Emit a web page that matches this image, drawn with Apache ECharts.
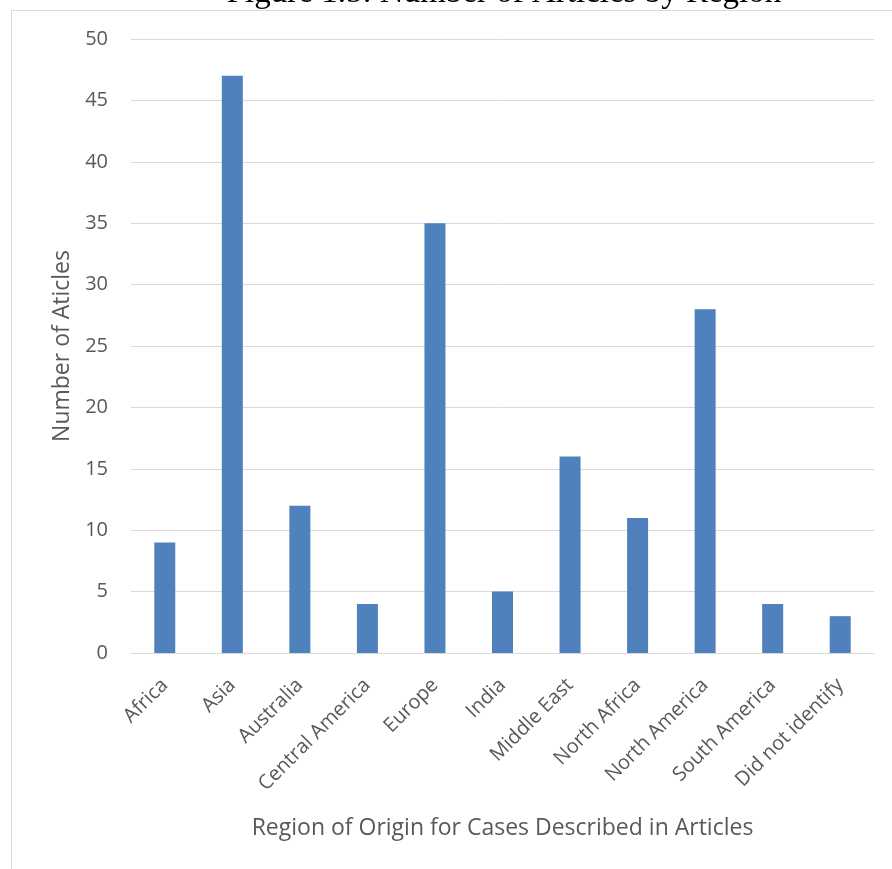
<!DOCTYPE html>
<html><head><meta charset="utf-8">
<script src="https://cdn.jsdelivr.net/npm/echarts@6/dist/echarts.min.js"></script>
<style>html,body{margin:0;padding:0;background:#fff}#c{width:892px;height:869px}</style>
</head><body><div id="c"></div>
<script>
const categories = ["Africa","Asia","Australia","Central America","Europe","India","Middle East","North Africa","North America","South America","Did not identify"];
const articles = [9,47,12,4,35,5,16,11,28,4,3];
const yTicks = [0,5,10,15,20,25,30,35,40,45,50];

const chart = echarts.init(document.getElementById('c'));
const font = '"Open Sans", sans-serif';
chart.setOption({
  animation:false,
  graphic:[
    {type:'rect',shape:{x:11.5,y:10.5,width:1000,height:1000},style:{fill:null,stroke:'#d9d9d9',lineWidth:1},silent:true},
    {type:'text',x:504,y:-7,style:{text:'Figure 1.5: Number of Articles by Region',textAlign:'center',textVerticalAlign:'middle',
      font:'33px "Liberation Serif","Times New Roman",serif',fill:'#000'},silent:true}
  ],
  grid:{left:131,right:18,top:39,bottom:216},
  xAxis:{type:'category',data:categories,
    axisLine:{lineStyle:{color:'#d9d9d9',width:1}},axisTick:{show:false},
    axisLabel:{rotate:45,color:'#595959',fontSize:20,fontFamily:font,margin:29,interval:0},
    name:'Region of Origin for Cases Described in Articles',nameLocation:'middle',nameGap:164,
    nameTextStyle:{color:'#595959',fontSize:23,fontFamily:font}},
  yAxis:{type:'value',min:0,max:50,interval:5,
    axisLine:{show:false},axisTick:{show:false},
    splitLine:{lineStyle:{color:'#d9d9d9',width:1}},
    axisLabel:{color:'#595959',fontSize:20,fontFamily:font,margin:23,
      formatter:v=>yTicks.includes(v)?String(v):''},
    name:'Number of Aticles',nameLocation:'middle',nameGap:54,
    nameTextStyle:{color:'#595959',fontSize:23,fontFamily:font}},
  series:[{type:'bar',data:articles,barWidth:21,itemStyle:{color:'#4f81bd'}}]
});
</script></body></html>
